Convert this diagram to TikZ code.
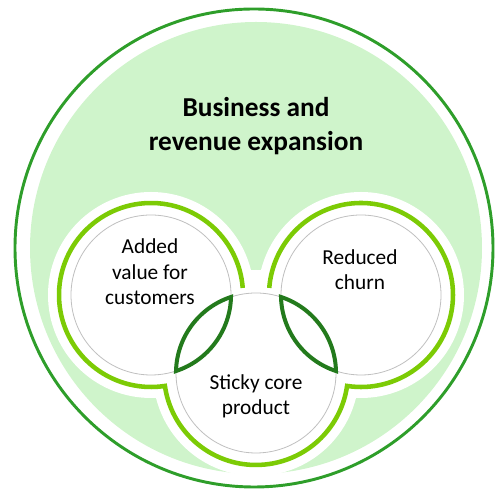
\documentclass[tikz,border=0pt]{standalone}
\usepackage{fontspec}
\setmainfont{Carlito}
\usepackage{tikz}
\definecolor{bizGreen}{HTML}{2E9E2A}
\definecolor{bizFill}{HTML}{CFF4CB}
\definecolor{ringGreen}{HTML}{7CCB05}
\definecolor{lensGreen}{HTML}{237A1C}
\definecolor{rimGray}{HTML}{C0C0C0}

\begin{document}
\begin{tikzpicture}[x = 0.75pt, y = 0.75pt,
    ring/.style = {draw=ringGreen, line width=3.4pt},
    lens/.style = {draw=lensGreen, fill=white, line width=3pt},
    rim/.style  = {draw=rimGray, line width=0.6pt}]
    \useasboundingbox (0, 0) rectangle (497, 491) ;

    % centres %
    \coordinate (big) at (254, 243) ;
    \coordinate (val) at (151, 196) ;
    \coordinate (churn) at (361, 196) ;
    \coordinate (core) at (256, 118) ;

    % big circle %
    \draw [bizGreen, line width=2.2pt] (big) circle (239) ;
    \fill [bizFill] (256, 243) circle (226) ;

    % white halo round the three circles
    \fill [white] (val) circle (103) (churn) circle (103) (core) circle (103) ;

    % green outline (left, bottom, right)
    \draw [ring] (val) ++(4.4:92)
          arc [start angle=4.4, end angle=278.7, radius=92]
          arc [start angle=188.1, end angle=351.9, radius=92]
          arc [start angle=-98.7, end angle=175.6, radius=92] ;

    % thin inner circles
    \draw [rim] (val) circle (80) ;
    \draw [rim] (churn) circle (80) ;
    \draw [rim] (core) circle (80) ;

    % overlaps %

    % left overlap
    \draw [lens] (231, 194)
          arc [start angle=-1.4, end angle=-71.8, radius=80]
          arc [start angle=178.6, end angle=108.2, radius=80] -- cycle ;

    % right overlap
    \draw [lens] (281, 194)
          arc [start angle=181.4, end angle=251.8, radius=80]
          arc [start angle=1.4, end angle=71.8, radius=80] -- cycle ;

    % texts %
    \node [align=center, font=\fontsize{20.5}{25}\selectfont\bfseries]
          (title) at (256, 365) {Business and\\revenue expansion} ;
    \node [align=center, font=\fontsize{16}{19}\selectfont]
          (val-txt) at (150, 219) {Added\\value for\\customers} ;
    \node [align=center, font=\fontsize{16}{19}\selectfont]
          (churn-txt) at (360, 221) {Reduced\\churn} ;
    \node [align=center, font=\fontsize{16}{19}\selectfont]
          (core-txt) at (256, 95) {Sticky core\\product} ;

\end{tikzpicture}
\end{document}
